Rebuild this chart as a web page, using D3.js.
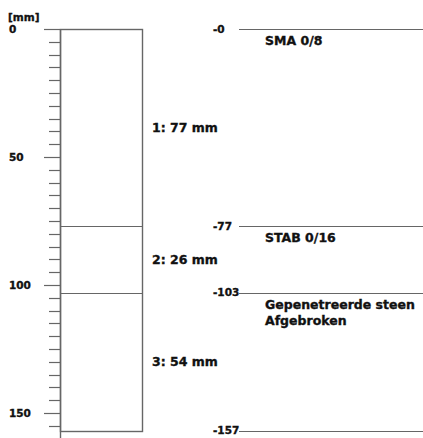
<!DOCTYPE html>
<html><head><meta charset="utf-8">
<script src="https://cdn.jsdelivr.net/npm/d3@7"></script>
<style>
html,body{margin:0;padding:0;background:#fff;}
text{font-family:"DejaVu Sans",Verdana,sans-serif;font-weight:bold;fill:#111;stroke:#111;stroke-width:0.35px;}
</style></head>
<body><svg id="c" width="423" height="438"></svg>
<script>
const layerThickness = [77, 26, 54];
const layerMaterials = [["SMA 0/8"], ["STAB 0/16"], ["Gepenetreerde steen", "Afgebroken"]];
const axisTickLabels = [0, 50, 100, 150];
const unitLabel = "[mm]";

const svg = d3.select("#c");
const y = d3.scaleLinear().domain([0, 160]).range([29, 438.6]);
const boxL = 60, boxR = 142;
const stroke = "#666";

const bounds = [0];
layerThickness.forEach(t => bounds.push(bounds[bounds.length - 1] + t));
const total = bounds[bounds.length - 1];

// minor ticks every 5 mm
const minor = d3.range(5, 161, 5).filter(v => axisTickLabels.indexOf(v) < 0);
svg.selectAll("line.minor").data(minor).join("line")
  .attr("x1", 49).attr("x2", boxL)
  .attr("y1", d => Math.round(y(d)) + 0.5).attr("y2", d => Math.round(y(d)) + 0.5)
  .attr("stroke", stroke).attr("stroke-width", 1.2);
svg.selectAll("line.major").data(axisTickLabels).join("line")
  .attr("x1", 44).attr("x2", boxL)
  .attr("y1", d => Math.round(y(d)) + 0.5).attr("y2", d => Math.round(y(d)) + 0.5)
  .attr("stroke", stroke).attr("stroke-width", 1.2);
// axis domain line
svg.append("line").attr("x1", boxL + 0.5).attr("x2", boxL + 0.5)
  .attr("y1", y(0)).attr("y2", y(160)).attr("stroke", stroke).attr("stroke-width", 1.4);
// axis labels
svg.selectAll("text.ax").data(axisTickLabels).join("text")
  .attr("x", 9).attr("y", d => y(d) + 3.5)
  .attr("font-size", 10.5).text(d => d);
svg.append("text").attr("x", 8).attr("y", 21).attr("font-size", 10.5).text(unitLabel);

// box
svg.append("rect").attr("x", boxL + 0.5).attr("y", Math.round(y(0)) + 0.5)
  .attr("width", boxR - boxL).attr("height", Math.round(y(total)) - Math.round(y(0)))
  .attr("fill", "none").attr("stroke", stroke).attr("stroke-width", 1.4);
// internal boundaries
svg.selectAll("line.bd").data(bounds.slice(1, -1)).join("line")
  .attr("x1", boxL).attr("x2", boxR)
  .attr("y1", d => Math.round(y(d)) + 0.5).attr("y2", d => Math.round(y(d)) + 0.5)
  .attr("stroke", stroke).attr("stroke-width", 1.2);

// layer labels
svg.selectAll("text.ly").data(layerThickness).join("text")
  .attr("x", 152).attr("y", (d, i) => y(bounds[i] + d / 2) + 4.5)
  .attr("font-size", 12.5).text((d, i) => (i + 1) + ": " + d + " mm");

// right side depth lines
svg.selectAll("line.rd").data(bounds).join("line")
  .attr("x1", 239).attr("x2", 423)
  .attr("y1", d => Math.round(y(d)) + 0.5).attr("y2", d => Math.round(y(d)) + 0.5)
  .attr("stroke", stroke).attr("stroke-width", 1.2);
svg.selectAll("text.dp").data(bounds).join("text")
  .attr("x", 213).attr("y", d => y(d) + 3.5)
  .attr("font-size", 10.5).text(d => "-" + d);

// materials
layerMaterials.forEach((lines, i) => {
  lines.forEach((s, j) => {
    svg.append("text").attr("x", 265).attr("y", y(bounds[i]) + 16 + j * 16)
      .attr("font-size", 12.5).text(s);
  });
});
</script></body></html>
